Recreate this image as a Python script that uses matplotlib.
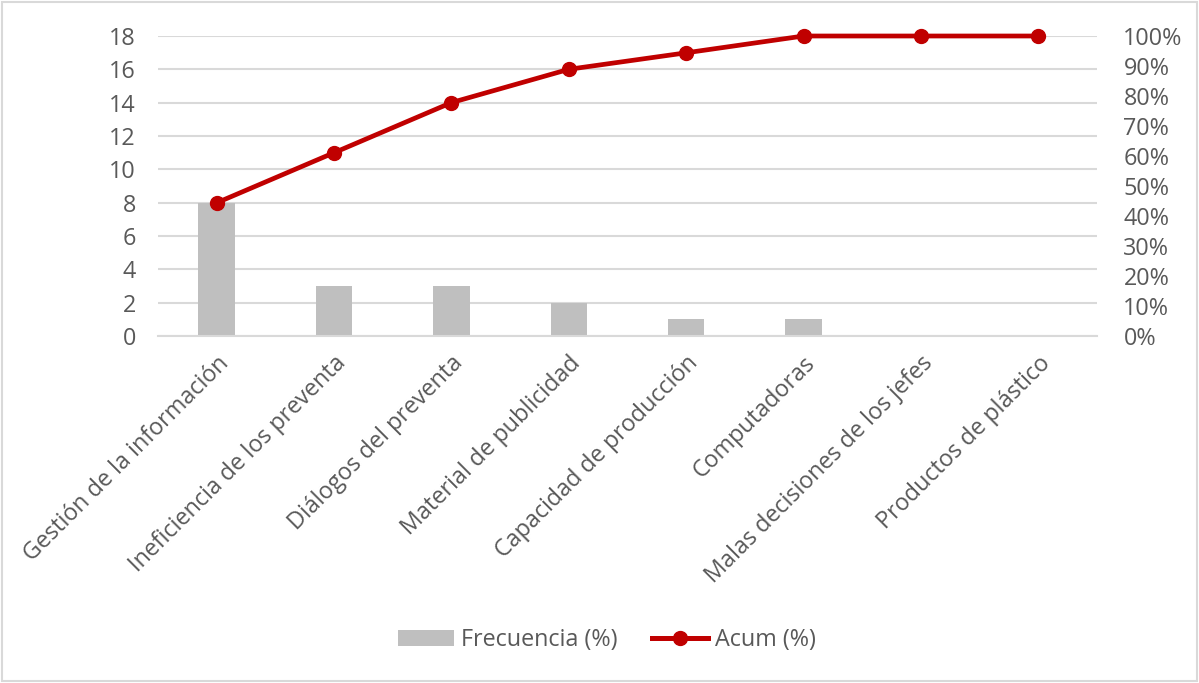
import matplotlib
matplotlib.use("Agg")
import matplotlib.pyplot as plt
from matplotlib.patches import Rectangle
from matplotlib.lines import Line2D
from matplotlib.patches import Patch

categories = [
    "Gestión de la información",
    "Ineficiencia de los preventa",
    "Diálogos del preventa",
    "Material de publicidad",
    "Capacidad de producción",
    "Computadoras",
    "Malas decisiones de los jefes",
    "Productos de plástico",
]
frecuencia = [8, 3, 3, 2, 1, 1, 0, 0]
acum_pct = [44.4, 61.1, 77.8, 88.9, 94.4, 100.0, 100.0, 100.0]
left_ticks = list(range(0, 19, 2))
right_ticks = list(range(0, 101, 10))

TEXT = "#595959"
GRID = "#D9D9D9"
BAR = "#BFBFBF"
RED = "#C00000"
FONT = "Open Sans"
FS = 16.8

plt.rcParams["font.family"] = [FONT, "DejaVu Sans"]

W, H = 1199, 683
fig = plt.figure(figsize=(W / 100, H / 100), dpi=100)
fig.patches.append(Rectangle((2 / W, 2 / H), 1 - 4 / W, 1 - 4 / H, transform=fig.transFigure,
                             fill=False, edgecolor=GRID, linewidth=1.5))

x0, x1, ytop, ybot = 158, 1097, 36, 336
ax = fig.add_axes([x0 / W, 1 - ybot / H, (x1 - x0) / W, (ybot - ytop) / H])
xs = list(range(len(categories)))
ax.bar(xs, frecuencia, width=0.31, color=BAR, zorder=2)
ax.set_xlim(-0.5, len(categories) - 0.5)
ax.set_ylim(0, 18)
ax.set_yticks(left_ticks)
ax.set_yticklabels([str(t) for t in left_ticks])
ax.yaxis.grid(True, color=GRID, linewidth=1.5, zorder=0)
ax.set_axisbelow(True)
for s in ["top", "right", "left"]:
    ax.spines[s].set_visible(False)
ax.spines["bottom"].set_color(GRID)
ax.spines["bottom"].set_linewidth(1.5)
ax.tick_params(axis="y", length=0, pad=16, labelsize=FS, labelcolor=TEXT)
ax.tick_params(axis="x", length=0, pad=11, labelsize=FS, labelcolor=TEXT)
ax.set_xticks(xs)
ax.set_xticklabels(categories, rotation=45, ha="right", va="top", rotation_mode="anchor")

ax2 = ax.twinx()
ax2.plot(xs, acum_pct, color=RED, linewidth=3.4, marker="o", markersize=10, zorder=5,
         solid_capstyle="round", clip_on=False)
ax2.set_ylim(0, 100)
ax2.set_yticks(right_ticks)
ax2.set_yticklabels([f"{t}%" for t in right_ticks])
for s in ["top", "right", "left", "bottom"]:
    ax2.spines[s].set_visible(False)
ax2.tick_params(axis="y", length=0, pad=19, labelsize=FS, labelcolor=TEXT)

handles = [Patch(facecolor=BAR, edgecolor="none"),
           Line2D([], [], color=RED, linewidth=3.6, marker="o", markersize=10)]
fig.legend(handles, ["Frecuencia (%)", "Acum (%)"], loc="center", bbox_to_anchor=(607 / W, 1 - 640 / H),
           ncol=2, frameon=False, fontsize=FS, labelcolor=TEXT, handlelength=2.4,
           handletextpad=0.3, columnspacing=1.5)

fig.savefig("out.png", dpi=100)
